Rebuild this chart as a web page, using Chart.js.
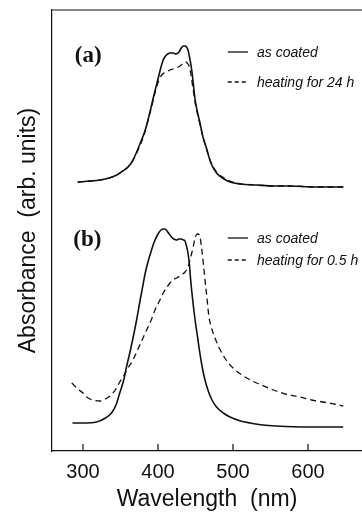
<!DOCTYPE html>
<html lang="en">
<head>
<meta charset="utf-8"/>
<title>Absorbance spectra</title>
<script src="https://cdn.jsdelivr.net/npm/chart.js@4.4.0/dist/chart.umd.min.js"></script>
<style>
  html, body { margin: 0; padding: 0; background: #fff; }
  #myChart { display: block; }
</style>
</head>
<body>
<canvas id="myChart" width="362" height="520"></canvas>
<script>
  // tick labels on the wavelength axis
  const xTicks = [300, 400, 500, 600];

  // panel (a), as coated
  const aCoatedWl  = [293, 310, 323, 335, 345, 353, 360, 366, 371, 377, 383, 389, 394, 399, 403, 406, 409, 413, 416, 420, 424, 428, 431, 434, 436, 438, 440, 442, 445, 447, 449, 452, 456, 460, 465, 470, 478, 488, 496, 510, 531, 555, 576, 610, 647];
  const aCoatedAbs = [269, 270, 271, 273, 276, 280, 284, 290, 298, 309, 321, 338, 354, 369, 381, 389, 394, 397, 398, 398, 397, 399, 403, 405, 405, 404, 401, 394, 381, 368, 354, 341, 328, 314, 302, 289, 278, 272, 269, 267, 266, 265, 265, 264, 264];

  // panel (a), heating for 24 h
  const aHeatWl  = [293, 310, 323, 335, 345, 353, 360, 366, 371, 377, 383, 389, 394, 398, 402, 405, 408, 411, 416, 420, 423, 427, 431, 434, 437, 440, 442, 444, 447, 450, 454, 458, 463, 470, 478, 488, 496, 510, 531, 555, 576, 610, 647];
  const aHeatAbs = [269, 270, 271, 273, 276, 280, 284, 290, 297, 307, 320, 337, 352, 364, 372, 376, 378, 379, 381, 382, 383, 384, 386, 388, 389, 387, 384, 376, 361, 346, 333, 320, 306, 290, 279, 273, 270, 267, 266, 265, 265, 264, 264];

  // panel (b), as coated
  const bCoatedWl  = [286, 300, 318, 330, 338, 344, 349, 354, 358, 363, 367, 372, 376, 380, 383, 387, 391, 395, 400, 404, 407, 409, 411, 414, 418, 421, 425, 428, 431, 434, 436, 438, 440, 442, 443, 445, 447, 450, 452, 455, 458, 462, 467, 472, 478, 487, 496, 510, 523, 540, 558, 600, 647];
  const bCoatedAbs = [28, 28, 29, 33, 38, 46, 58, 70, 84, 100, 114, 133, 150, 166, 178, 190, 200, 209, 217, 221, 222, 222, 221, 218, 214, 212, 211, 212, 212, 211, 210, 205, 198, 186, 176, 160, 146, 128, 118, 102, 88, 73, 60, 51, 44, 38, 34, 30, 28, 26, 25, 24, 24];

  // panel (b), heating for 0.5 h
  const bHeatWl  = [285, 293, 300, 305, 313, 323, 330, 336, 343, 349, 355, 360, 366, 371, 377, 383, 388, 391, 396, 402, 407, 413, 420, 425, 431, 436, 440, 443, 445, 447, 449, 451, 453, 456, 458, 460, 462, 465, 468, 471, 476, 483, 490, 500, 510, 523, 538, 554, 570, 589, 605, 620, 635, 647];
  const bHeatAbs = [68, 62, 58, 54, 51, 50, 52, 55, 61, 69, 76, 83, 90, 98, 108, 118, 126, 131, 141, 150, 158, 165, 171, 173, 176, 179, 184, 192, 198, 204, 212, 216, 217, 214, 204, 191, 176, 155, 134, 124, 113, 101, 92, 83, 77, 71, 66, 61, 57, 54, 51, 49, 47, 45];

  function pts(xs, ys) {
    return xs.map((x, i) => ({ x: x, y: ys[i] }));
  }

  const INK = '#111';
  const SANS = "'Liberation Sans', Arial, sans-serif";

  // frame top, inward ticks, panel letters and the little legends (data coordinates)
  const notes = {
    id: 'notes',
    afterDraw(chart) {
      const ctx = chart.ctx;
      const xs = chart.scales.x, ys = chart.scales.y;
      const area = chart.chartArea;
      const X = v => xs.getPixelForValue(v), Y = v => ys.getPixelForValue(v);

      ctx.save();
      ctx.strokeStyle = INK;
      ctx.lineWidth = 1.2;
      ctx.beginPath();
      ctx.moveTo(area.left, area.top);
      ctx.lineTo(area.right, area.top);
      ctx.stroke();
      xTicks.forEach(v => {
        ctx.beginPath();
        ctx.moveTo(X(v), area.bottom);
        ctx.lineTo(X(v), area.bottom - 7);
        ctx.stroke();
      });

      ctx.fillStyle = INK;
      ctx.font = "bold 23px 'Liberation Serif', 'Times New Roman', serif";
      ctx.textBaseline = 'alphabetic';
      ctx.textAlign = 'left';
      ctx.fillText('(a)', X(289), Y(389));
      ctx.fillText('(b)', X(287), Y(205));

      const rows = [
        { y: 399, dash: [], text: 'as coated' },
        { y: 369, dash: [4, 3], text: 'heating for 24 h' },
        { y: 213, dash: [], text: 'as coated' },
        { y: 191, dash: [4, 3], text: 'heating for 0.5 h' }
      ];
      ctx.font = "italic 14px " + SANS;
      ctx.textBaseline = 'middle';
      rows.forEach(r => {
        ctx.setLineDash(r.dash);
        ctx.lineWidth = 1.3;
        ctx.beginPath();
        ctx.moveTo(X(493), Y(r.y));
        ctx.lineTo(X(520), Y(r.y));
        ctx.stroke();
        ctx.setLineDash([]);
        ctx.fillText(r.text, X(532), Y(r.y) + 1);
      });
      ctx.restore();
    }
  };

  const solid = { borderColor: INK, borderWidth: 1.6, fill: false };
  const dashed = { borderColor: INK, borderWidth: 1.3, borderDash: [6, 4], fill: false };

  new Chart(document.getElementById('myChart'), {
    type: 'line',
    data: {
      datasets: [
        Object.assign({ label: 'as coated (a)', data: pts(aCoatedWl, aCoatedAbs) }, solid),
        Object.assign({ label: 'heating for 24 h', data: pts(aHeatWl, aHeatAbs) }, dashed),
        Object.assign({ label: 'as coated (b)', data: pts(bCoatedWl, bCoatedAbs) }, solid),
        Object.assign({ label: 'heating for 0.5 h', data: pts(bHeatWl, bHeatAbs) }, dashed)
      ]
    },
    plugins: [notes],
    options: {
      responsive: false,
      animation: false,
      devicePixelRatio: 1,
      layout: { padding: { top: 10, left: 0, right: 0, bottom: 0 } },
      plugins: { legend: { display: false }, tooltip: { enabled: false } },
      elements: {
        point: { radius: 0 },
        line: { cubicInterpolationMode: 'monotone' }
      },
      scales: {
        x: {
          type: 'linear',
          min: 258.7,
          max: 672,
          afterBuildTicks: s => { s.ticks = xTicks.map(v => ({ value: v })); },
          afterFit: s => { s.height = 69; },
          grid: { display: false, drawTicks: false },
          border: { display: true, color: INK, width: 1.2 },
          ticks: { color: INK, font: { family: SANS, size: 20 }, padding: 9, maxRotation: 0 },
          title: {
            display: true,
            text: 'Wavelength  (nm)',
            color: INK,
            font: { family: SANS, size: 23 },
            padding: { top: 0, bottom: 7 }
          }
        },
        y: {
          min: 0,
          max: 441,
          afterFit: s => { s.width = 52; },
          grid: { display: false, drawTicks: false },
          border: { display: true, color: INK, width: 1.2 },
          ticks: { display: false },
          title: {
            display: true,
            text: 'Absorbance  (arb. units)',
            color: INK,
            font: { family: SANS, size: 23 },
            padding: { top: 15, bottom: 0 }
          }
        }
      }
    }
  });
</script>
</body>
</html>
